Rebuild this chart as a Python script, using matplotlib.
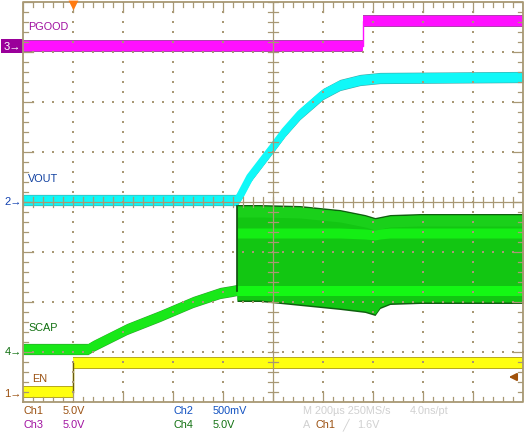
import numpy as np
import matplotlib
matplotlib.use('Agg')
import matplotlib.pyplot as plt
from matplotlib.transforms import blended_transform_factory

# ---------------- data (time in microseconds, values in volts) ----------------
en_t = [-200, 0, 0, 1800]
en_v = [0.1, 0.1, 3.0, 3.0]

pgood_t = [-200, 1160, 1160, 1800]
pgood_v = [0.0, 0.0, 2.5, 2.5]

vout_t = [-200, 656, 668, 708, 800, 848, 908, 1000, 1068, 1148, 1228, 1800]
vout_v = [0.01, 0.01, 0.05, 0.24, 0.54, 0.70, 0.87, 1.07, 1.16, 1.21, 1.23, 1.24]

scap_t = [-200, 60, 80, 216, 348, 480, 588, 636, 656]
scap_v = [0.2, 0.2, 0.5, 2.2, 3.5, 4.9, 5.8, 6.0, 6.1]

# switching envelope of SCAP once VOUT starts
sw_t = [656, 748, 908, 1068, 1168, 1208, 1228, 1268, 1388, 1800]
sw_top = [14.5, 14.5, 14.4, 14.0, 13.5, 13.2, 13.3, 13.5, 13.6, 13.6]
sw_bot = [5.1, 5.1, 4.7, 4.3, 4.0, 3.7, 4.4, 4.8, 4.9, 4.9]
sw_hi = [11.8, 11.8, 11.8, 11.8, 11.7, 11.6, 11.7, 11.8, 11.8, 11.8]
sw_lo = [6.0, 6.0, 6.0, 6.0, 6.0, 6.0, 6.0, 6.0, 6.0, 6.0]

# channel settings: vertical position (div), volts/div
ch_pos = {1: -3.82, 2: 0.02, 3: 3.12, 4: -2.98}
ch_scale = {1: 5.0, 2: 0.5, 3: 5.0, 4: 5.0}
trig_level = 1.6

time_per_div = 200   # us
t_min, t_max = -200, 1800

# ---------------- figure ----------------
W, H = 526, 439
fig = plt.figure(figsize=(W / 100, H / 100), dpi=100)
fig.patch.set_facecolor('white')
ax = fig.add_axes([23 / W, 36 / H, 500 / W, 400 / H])
ax.set_xlim(t_min, t_max)
ax.set_ylim(-4, 4)
ax.set_xticks([])
ax.set_yticks([])
for s in ax.spines.values():
    s.set_visible(False)

GRID = '#a89874'
FONT = ['Liberation Sans', 'DejaVu Sans']


def div(v, ch):
    return ch_pos[ch] + np.asarray(v, dtype=float) / ch_scale[ch]


HALF = 0.1  # half thickness of trace band in divisions (5 px)


def band(t, v, ch, color, edge, thick=False, z=3):
    y = div(v, ch)
    t = np.asarray(t, dtype=float)
    ax.fill_between(t, y - HALF - 0.012, y + HALF + 0.012, color=edge, lw=0, zorder=z)
    ax.fill_between(t, y - HALF, y + HALF, color=color, lw=0, zorder=z + 0.1)
    if thick:
        ax.plot(t, y, color=color, lw=5.5, zorder=z + 0.15, solid_capstyle='butt')
    else:
        ax.plot(t, y, color=color, lw=1.0, zorder=z + 0.2)


# PGOOD
band(pgood_t, pgood_v, 3, '#ff10ff', '#b040b0')
# VOUT
band(vout_t, vout_v, 2, '#10f8f8', '#40a8a8', thick=True)
# SCAP (before switching)
band(scap_t, scap_v, 4, '#18e818', '#30a030', thick=True)
# SCAP switching envelope
st = np.asarray(sw_t, dtype=float)
ax.fill_between(st, div(sw_bot, 4) - 0.03, div(sw_top, 4) + 0.03, color='#0f5f0f', lw=0, zorder=3)
ax.fill_between(st, div(sw_bot, 4), div(sw_top, 4), color='#12c612', lw=0, zorder=3.1)
ax.fill_between(st, div(sw_top, 4) - 0.22, div(sw_top, 4), color='#1ad01a', lw=0, zorder=3.15)
ax.fill_between(st, div(sw_hi, 4) - 0.1, div(sw_hi, 4) + 0.1, color='#14ee14', lw=0, zorder=3.2)
ax.fill_between(st, div(sw_lo, 4) - 0.1, div(sw_lo, 4) + 0.1, color='#14f814', lw=0, zorder=3.2)
ax.plot([st[0], st[0]], [div(sw_lo, 4)[0], div(sw_top, 4)[0]], color='#0a4a0a', lw=1.2, zorder=3.3)
# EN
band(en_t, en_v, 1, '#ffff10', '#b8aa20')
ax.plot([en_t[1], en_t[2]], div([en_v[1], en_v[2]], 1), color='#6a5a10', lw=1.0, zorder=3.4)

# ---------------- graticule ----------------
minor_t = time_per_div / 5
xs_dots = np.arange(t_min, t_max + 1, minor_t)
ys_dots = np.arange(-4, 4.001, 0.2)
gz = 5
for j in range(-3, 4):
    if j == 0:
        continue
    ax.scatter(xs_dots, np.full_like(xs_dots, j, dtype=float), s=0.9, marker='s',
               color=GRID, lw=0, zorder=gz)
for i in range(1, 10):
    if i == 5:
        continue
    tx = t_min + i * time_per_div
    ax.scatter(np.full_like(ys_dots, tx), ys_dots, s=0.9, marker='s', color=GRID, lw=0, zorder=gz)

# centre cross
tc = t_min + 5 * time_per_div
ax.axvline(tc, color=GRID, lw=0.9, zorder=gz)
ax.axhline(0, color=GRID, lw=0.9, zorder=gz)
dt_px = (t_max - t_min) / 500.0
dy_px = 8 / 400.0
for x in xs_dots:
    ax.plot([x, x], [-5 * dy_px, 5 * dy_px], color=GRID, lw=0.9, zorder=gz)
for y in ys_dots:
    ax.plot([tc - 5 * dt_px, tc + 5 * dt_px], [y, y], color=GRID, lw=0.9, zorder=gz)

# border with ticks
ax.plot([t_min, t_max, t_max, t_min, t_min], [-4, -4, 4, 4, -4], color=GRID, lw=1.3,
        zorder=gz, clip_on=False)
for k, x in enumerate(xs_dots):
    L = 10 if k % 5 == 0 else 5
    ax.plot([x, x], [4, 4 - L * dy_px], color=GRID, lw=0.9, zorder=gz)
    ax.plot([x, x], [-4, -4 + L * dy_px], color=GRID, lw=0.9, zorder=gz)
for k, y in enumerate(ys_dots):
    L = 10 if k % 5 == 0 else 5
    ax.plot([t_min, t_min + L * dt_px], [y, y], color=GRID, lw=0.9, zorder=gz)
    ax.plot([t_max, t_max - L * dt_px], [y, y], color=GRID, lw=0.9, zorder=gz)

# trigger position marker (top) and trigger level arrow (right)
ax.scatter([0], [4 - 2.5 * dy_px], marker='v', s=50, color='#ff7a10', lw=0, zorder=7, clip_on=False)
yl = ch_pos[1] + trig_level / ch_scale[1]
ax.annotate('', xy=(t_max - 17 * dt_px, yl), xytext=(t_max - 4 * dt_px, yl),
            arrowprops=dict(arrowstyle='-|>', color='#a0520a', lw=1.4, mutation_scale=11),
            zorder=7)

# channel ground markers on the left
bt = blended_transform_factory(fig.transFigure, ax.transData)
ax.text(12 / W, div(0, 3), '3→', transform=bt, ha='center', va='center', color='white',
        fontsize=8, family=FONT, clip_on=False,
        bbox=dict(boxstyle='square,pad=0.2', fc='#9a009a', ec='none'))
for ch, col in [(2, '#1040b0'), (4, '#107010'), (1, '#9a5010')]:
    ax.text(13 / W, div(0, ch), f'{ch}→', transform=bt, ha='center', va='center', color=col,
            fontsize=8, family=FONT, clip_on=False)


def ftxt(px, py, s, c, **kw):
    fig.text(px / W, 1 - py / H, s, color=c, fontsize=7.8, family=FONT, ha='left', va='center', **kw)


# trace labels
ftxt(28, 27, 'PGOOD', '#a010a0')
ftxt(28, 179, 'VOUT', '#1040a0')
ftxt(28, 328, 'SCAP', '#107010')
ftxt(32, 379, 'EN', '#9a5010')

# readout
ftxt(23, 411, 'Ch1', '#9a5010')
ftxt(63, 411, '5.0V', '#9a5010')
ftxt(23, 425, 'Ch3', '#a010a0')
ftxt(63, 425, '5.0V', '#a010a0')
ftxt(173, 411, 'Ch2', '#1050c0')
ftxt(213, 411, '500mV', '#1050c0')
ftxt(173, 425, 'Ch4', '#107010')
ftxt(213, 425, '5.0V', '#107010')
ftxt(303, 411, 'M 200µs 250MS/s', '#d0d0d0')
ftxt(410, 411, '4.0ns/pt', '#d0d0d0')
ftxt(303, 425, 'A', '#d0d0d0')
ftxt(316, 425, 'Ch1', '#9a5010')
ftxt(342, 425, '╱', '#d0d0d0')
ftxt(357, 425, '1.6V', '#d0d0d0')

fig.savefig('out.png', dpi=100, facecolor='white')
